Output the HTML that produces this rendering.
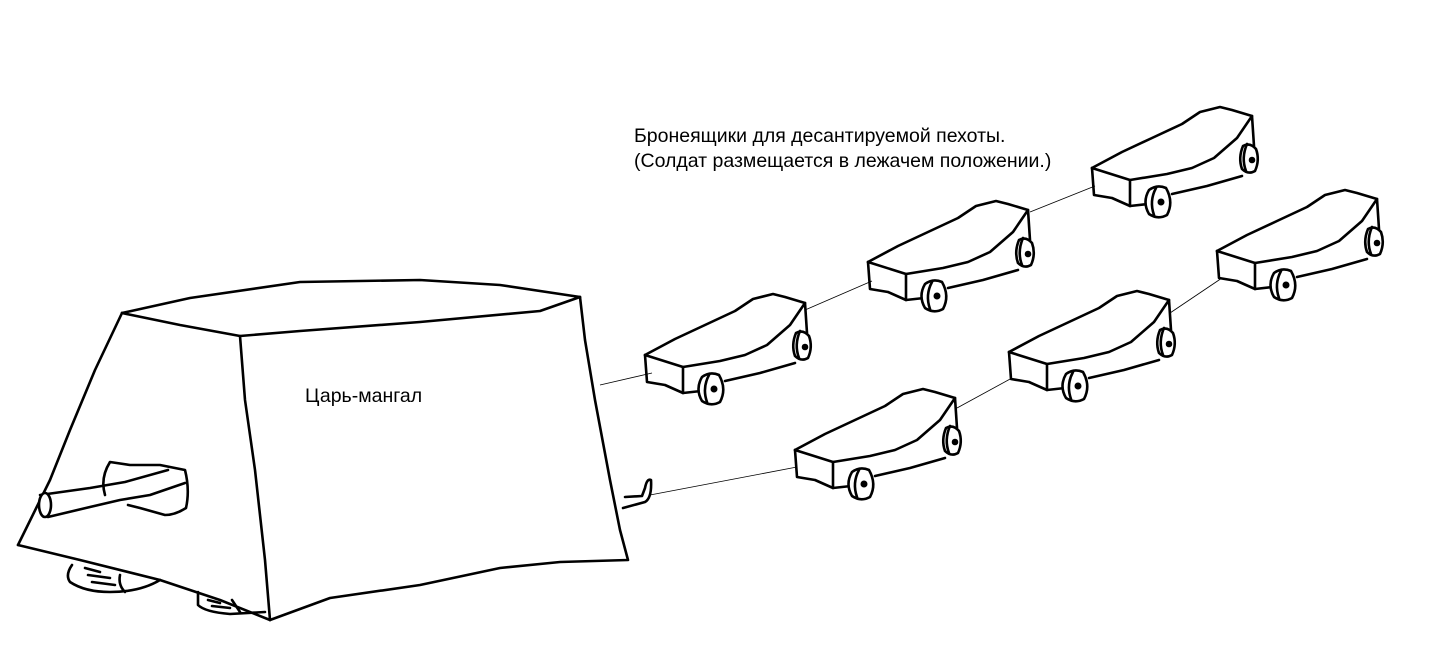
<!DOCTYPE html>
<html><head><meta charset="utf-8"><style>
html,body{margin:0;padding:0;background:#fff;width:1450px;height:658px;overflow:hidden}
svg{position:absolute;left:0;top:0}
</style></head><body>
<svg width="1450" height="658" viewBox="0 0 1450 658" xmlns="http://www.w3.org/2000/svg">
<defs>
<g id="c" fill="none" stroke="#000" stroke-width="2.6" stroke-linejoin="round" stroke-linecap="round">
<path d="M0,0 L30,-16 L60,-30 L90,-44 L108,-56 L128,-61 L140,-58 L160,-52"/>
<path d="M0,0 L38,12 L75,6 L100,0 L122,-10 L145,-30 L160,-52 L162,-22"/>
<path d="M0,0 L2,27 L20,30 L38,38 L38,12"/>
<path d="M38,38 L56,36 M80,26 L115,18 L150,8"/>
<path d="M57,22 Q65,16 74,20 Q82,34 75,47 Q66,52 57,46 Q50,34 57,22 Z" fill="#fff"/>
<path d="M64,20 Q57,33 62,47"/>
<circle cx="69" cy="34" r="2.2" fill="#000"/>
<path d="M151,-22 Q158,-26 164,-19 Q168,-8 163,3 Q156,7 150,1 Q146,-10 151,-22 Z" fill="#fff"/>
<path d="M155,-24 Q149,-10 154,3"/>
<circle cx="160" cy="-8" r="2" fill="#000"/>
</g>
</defs>
<g stroke="#000" stroke-width="0.8" fill="none">
<line x1="600" y1="385" x2="652" y2="373"/>
<line x1="805" y1="310" x2="872" y2="281"/>
<line x1="1030" y1="212" x2="1095" y2="186"/>
<line x1="650" y1="495" x2="797" y2="467"/>
<line x1="957" y1="408" x2="1012" y2="378"/>
<line x1="1170" y1="313" x2="1222" y2="278"/>
</g>
<use href="#c" x="645" y="355"/>
<use href="#c" x="868" y="262"/>
<use href="#c" x="1092" y="168"/>
<use href="#c" x="795" y="450"/>
<use href="#c" x="1009" y="352"/>
<use href="#c" x="1217" y="251"/>
<g fill="none" stroke="#000" stroke-width="2.6" stroke-linejoin="round" stroke-linecap="round">
<path d="M72,565 Q65,575 70,582 Q85,592 110,592 Q140,592 160,580"/>
<path d="M85,568 L100,572 M88,575 L110,578 M92,582 L115,585"/>
<path d="M120,575 Q118,585 125,592"/>
<path d="M198,592 L198,605 Q205,612 230,614 L265,612"/>
<path d="M208,600 L220,603 M212,606 L230,608 M232,600 L240,612"/>
<path d="M122,313 L190,298 L300,282 L420,280 L500,285 L580,297"/>
<path d="M122,313 L180,325 L240,336 L300,331 L420,322 L540,311 L580,297"/>
<path d="M122,313 L95,370 L70,430 L50,480 L18,545"/>
<path d="M240,336 L245,400 L255,470 L265,560 L270,620"/>
<path d="M580,297 L585,340 L595,400 L610,480 L620,530 L628,560 L560,562 L500,568 L420,585 L330,598 L270,620"/>
<path d="M18,545 L80,560 L160,580 L220,600 L270,620"/>
<path d="M105,495 Q100,478 110,462 L130,465 L160,465 L185,470 Q190,490 186,508 Q175,515 165,515 L140,508 L128,505"/>
<path d="M40,495 L90,488 L125,482 L168,470"/>
<path d="M48,517 L90,507 L120,500 L150,495 L185,483"/>
<ellipse cx="45" cy="505" rx="6" ry="12" fill="#fff"/>
<path d="M623,508 L645,502 Q652,498 651,480 Q647,478 645,488 L642,496 L625,497"/>
</g>
<g font-family="'Liberation Sans', Arial, sans-serif" font-size="19.5" fill="#000">
<text x="634" y="142">Бронеящики для десантируемой пехоты.</text>
<text x="634" y="167">(Солдат размещается в лежачем положении.)</text>
<text x="305" y="402">Царь-мангал</text>
</g>
</svg>
</body></html>
